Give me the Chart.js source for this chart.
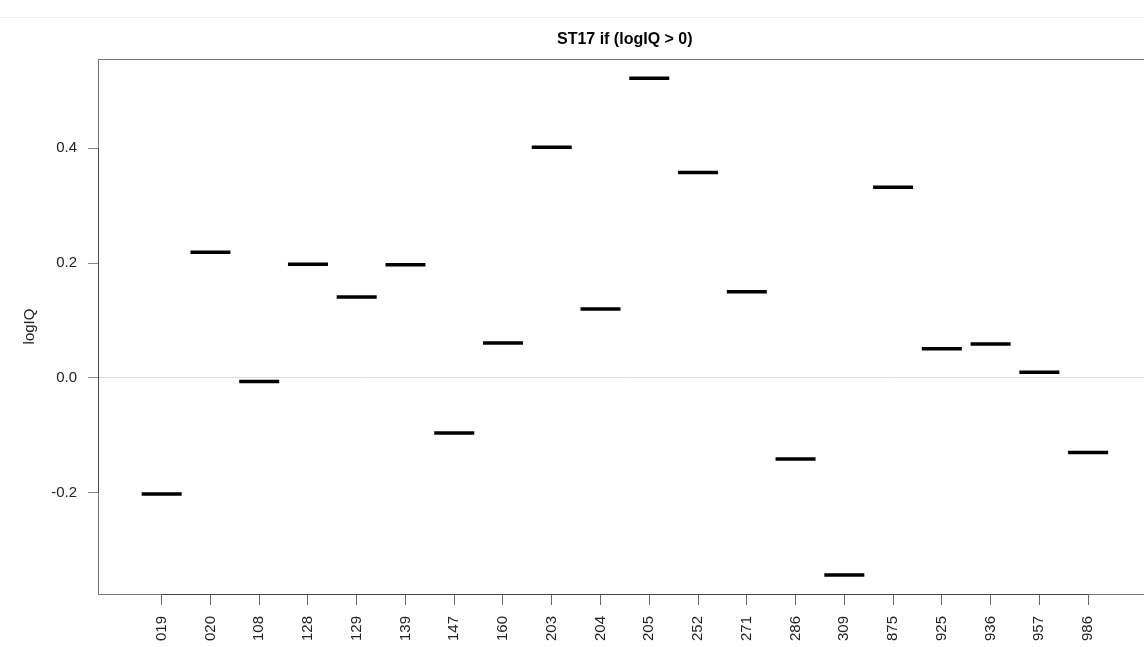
<!DOCTYPE html>
<html>
<head>
<meta charset="utf-8">
<script src="https://cdn.jsdelivr.net/npm/chart.js@4.4.1/dist/chart.umd.min.js"></script>
<style>
  html, body { margin: 0; padding: 0; background: #fff; overflow: hidden; }
  .page { position: relative; width: 1144px; height: 647px; overflow: hidden; }
  .topline { position: absolute; left: 0; top: 17px; width: 1144px; height: 0; border-top: 1px solid #f0f0f0; }
  #chart { position: absolute; left: 0; top: 0; }
</style>
</head>
<body>
<div class="page">
  <div class="topline"></div>
  <!-- wider than the window: the plot box runs off the right edge like the original -->
  <canvas id="chart" width="1175" height="647"></canvas>
</div>
<script>
const categories = ['019', '020', '108', '128', '129', '139', '147', '160', '203', '204',
                    '205', '252', '271', '286', '309', '875', '925', '936', '957', '986'];
const logIQ = [-0.202, 0.219, -0.006, 0.198, 0.141, 0.197, -0.096, 0.061, 0.402, 0.120,
               0.522, 0.358, 0.150, -0.141, -0.343, 0.332, 0.051, 0.059, 0.010, -0.130];
const yTicks = [-0.2, 0.0, 0.2, 0.4];
const chartTitle = 'ST17 if (logIQ > 0)';
const yTitle = 'logIQ';

const font = '"Liberation Sans", Arial, sans-serif';

// box, axis lines and texts the way R draws them
const rDecor = {
  id: 'rDecor',
  afterDraw(chart) {
    const { ctx, chartArea: a, scales } = chart;
    ctx.save();
    ctx.strokeStyle = '#777';
    ctx.lineWidth = 1;
    ctx.strokeRect(a.left + 0.5, a.top + 0.5, a.right - a.left, a.bottom - a.top);

    // axis line from first to last tick
    ctx.strokeStyle = '#444';
    const x1 = scales.x.getPixelForValue(1);
    const x2 = scales.x.getPixelForValue(categories.length);
    ctx.beginPath();
    ctx.moveTo(x1, a.bottom + 0.5);
    ctx.lineTo(x2, a.bottom + 0.5);
    ctx.stroke();
    const y1 = scales.y.getPixelForValue(yTicks[0]);
    const y2 = scales.y.getPixelForValue(yTicks[yTicks.length - 1]);
    ctx.beginPath();
    ctx.moveTo(a.left + 0.5, y1);
    ctx.lineTo(a.left + 0.5, y2);
    ctx.stroke();

    ctx.fillStyle = '#000';
    ctx.textAlign = 'center';
    ctx.textBaseline = 'middle';
    ctx.font = 'bold 16px ' + font;
    ctx.fillText(chartTitle, (a.left + a.right) / 2, 40);

    ctx.fillStyle = '#222';
    ctx.font = '15px ' + font;
    ctx.translate(30, (a.top + a.bottom) / 2);
    ctx.rotate(-Math.PI / 2);
    ctx.fillText(yTitle, 0, 0);
    ctx.restore();
  }
};

const ctx = document.getElementById('chart').getContext('2d');

new Chart(ctx, {
  type: 'scatter',
  data: {
    datasets: [{
      data: logIQ.map((v, i) => ({ x: i + 1, y: v })),
      pointStyle: 'line',
      radius: 20,
      hoverRadius: 20,
      borderWidth: 3.5,
      hoverBorderWidth: 3.5,
      borderColor: '#000',
      backgroundColor: '#000'
    }]
  },
  options: {
    responsive: false,
    animation: false,
    layout: { padding: { left: 0, top: 59, right: 0, bottom: 0 } },
    scales: {
      x: {
        type: 'linear',
        min: -0.306,
        max: 21.3,
        afterBuildTicks: (s) => { s.ticks = categories.map((c, i) => ({ value: i + 1 })); },
        afterFit: (s) => {
          s.height = 53;
          s.paddingLeft = 0;
          s.paddingRight = 0;
        },
        border: { display: false },
        grid: {
          drawOnChartArea: false,
          tickLength: 11,
          tickColor: '#666',
          tickWidth: 1
        },
        ticks: {
          autoSkip: false,
          minRotation: 90,
          maxRotation: 90,
          padding: 11,
          color: '#222',
          font: { family: font, size: 15 },
          callback: (v) => categories[v - 1]
        }
      },
      y: {
        min: -0.3763,
        max: 0.5556,
        afterBuildTicks: (s) => { s.ticks = yTicks.map(v => ({ value: v })); },
        afterFit: (s) => { s.width = 98; },
        border: { display: false },
        grid: {
          color: (c) => (c.tick && c.tick.value === 0 ? '#dddddd' : 'rgba(0,0,0,0)'),
          tickColor: '#888',
          tickLength: 10,
          lineWidth: 1
        },
        ticks: {
          padding: 11,
          color: '#222',
          font: { family: font, size: 15 },
          callback: (v) => v.toFixed(1)
        }
      }
    },
    plugins: {
      legend: { display: false },
      title: { display: false },
      tooltip: { enabled: true }
    }
  },
  plugins: [rDecor]
});
</script>
</body>
</html>
